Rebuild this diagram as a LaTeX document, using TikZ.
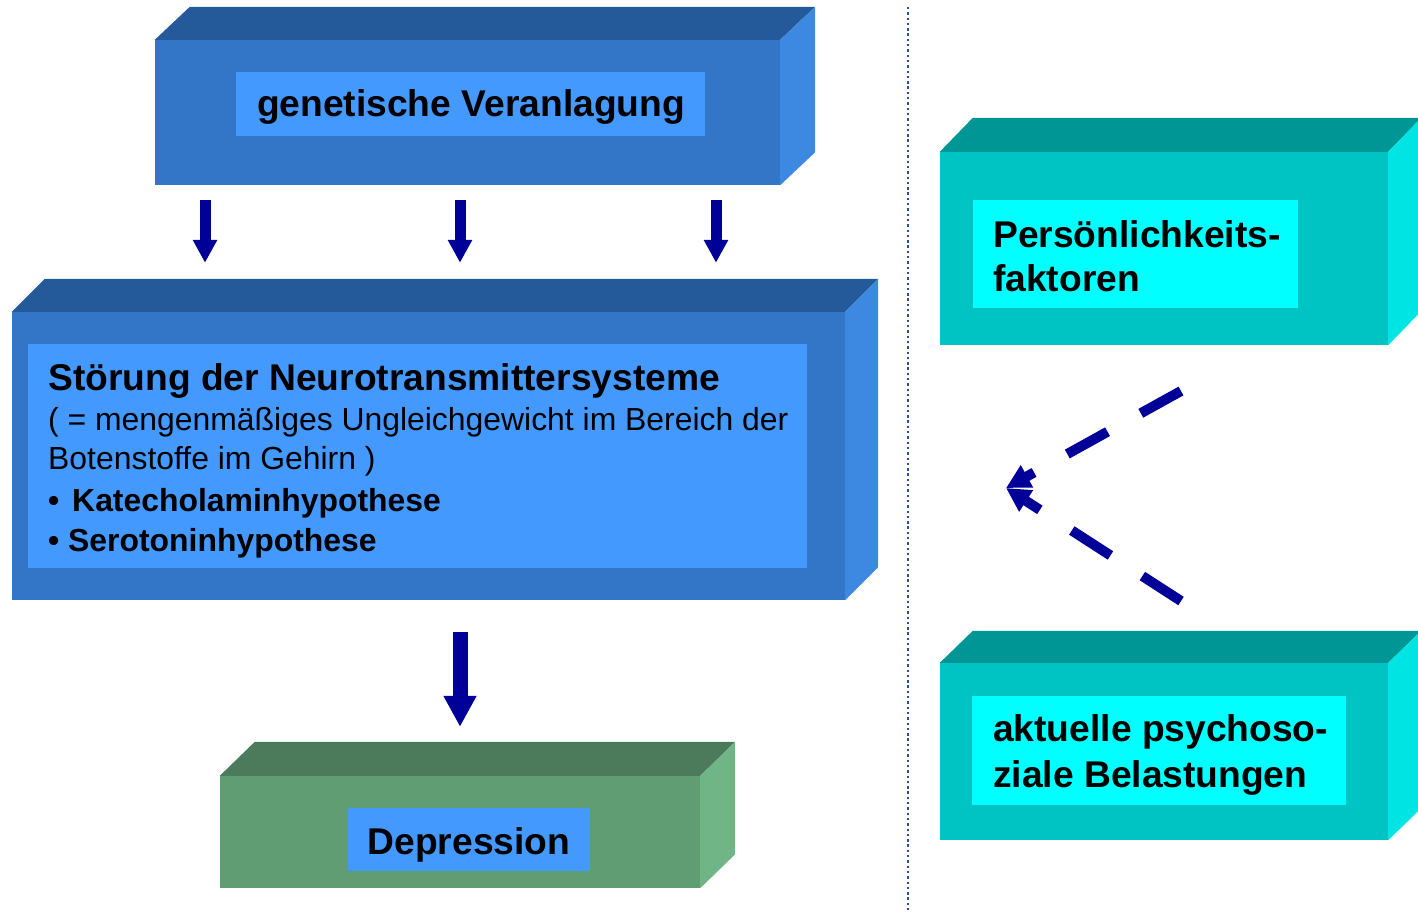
\documentclass[tikz,border=0pt]{standalone}
\usepackage{fontspec}
\setmainfont{Liberation Sans}
\usetikzlibrary{calc,arrows.meta}

\definecolor{blueF}{RGB}{51,117,199}
\definecolor{blueT}{RGB}{36,90,153}
\definecolor{blueS}{RGB}{61,136,225}
\definecolor{blueIn}{RGB}{68,153,255}
\definecolor{tealF}{RGB}{0,196,196}
\definecolor{tealT}{RGB}{0,150,150}
\definecolor{tealS}{RGB}{0,228,228}
\definecolor{tealIn}{RGB}{0,255,255}
\definecolor{greenF}{RGB}{97,157,115}
\definecolor{greenT}{RGB}{76,123,91}
\definecolor{greenS}{RGB}{112,181,133}
\definecolor{arrowblue}{RGB}{0,0,153}
\definecolor{divider}{RGB}{40,80,150}

\newcommand\headfont{\fontsize{37.2}{44}\selectfont\bfseries}
\newcommand\bodyfont{\fontsize{31.9}{38}\selectfont}

\tikzset{
  frontface/.style={rectangle, draw=none, inner sep=0pt},
  labelbox/.style={rectangle, draw=none, inner sep=0pt},
  txt/.style={inner sep=0pt, anchor=base west, text=black},
  smallarrow/.style={draw=arrowblue, line width=11pt, -{Triangle[width=23pt,length=23pt]}},
  bigarrow/.style={draw=arrowblue, line width=15pt, -{Triangle[width=31pt,length=31pt]}},
  dasharrow/.style={draw=arrowblue, line width=10pt, dash pattern=on 46pt off 38pt,
    -{Triangle[width=24pt,length=24pt]}},
}

% a box with a front face, a top face and a right face
% #1 name, #2 centre, #3 width, #4 height, #5 #6 depth, #7 colour prefix
\newcommand\drawblock[7]{%
  \node[frontface, fill=#7F, minimum width=#3pt, minimum height=#4pt] (#1) at (#2) {};
  \fill[#7T] (#1.north west) -- ++(#5,-#6) -- ($(#1.north east)+(#5,-#6)$)
    -- (#1.north east) -- cycle;
  \fill[#7S] (#1.north east) -- ++(#5,-#6) -- ($(#1.south east)+(#5,-#6)$)
    -- (#1.south east) -- cycle;
}

\begin{document}
\begin{tikzpicture}[x=1pt, y=-1pt]
\clip (0,0) rectangle (1418,912);
\fill[white] (0,0) rectangle (1418,912);

% dotted divider
\coordinate (divtop) at (908,7);
\coordinate (divbot) at (908,912);
\draw[divider, line width=2.4pt, dash pattern=on 2.4pt off 2.9pt] (divtop) -- (divbot);

% genetic disposition
\drawblock{gen}{467.5,112.5}{625}{145}{35}{33}{blue}
\node[labelbox, fill=blueIn, minimum width=469pt, minimum height=64pt] (genlbl) at (470.5,104) {};
\node[txt, anchor=base] (gentxt) at (471,117) {\headfont genetische Veranlagung};

% neurotransmitter disturbance
\drawblock{neuro}{428.5,456}{833}{288}{33}{33}{blue}
\node[labelbox, fill=blueIn, minimum width=779pt, minimum height=224pt] (neurolbl) at (417.5,456) {};
\node[txt] (n1) at (48,390) {\headfont Störung der Neurotransmittersysteme};
\node[txt] (n2) at (48,430) {\bodyfont ( = mengenmäßiges Ungleichgewicht im Bereich der};
\node[txt] (n3) at (48,469) {\bodyfont Botenstoffe im Gehirn )};
\node[txt] (n4) at (48,511) {\bodyfont\bfseries \textbullet\hspace{4pt} Katecholaminhypothese};
\node[txt] (n5) at (48,551) {\bodyfont\bfseries \textbullet\ Serotoninhypothese};

% depression
\drawblock{depr}{460,832}{480}{112}{35}{34}{green}
\node[labelbox, fill=blueIn, minimum width=242pt, minimum height=63pt] (deprlbl) at (469,839.5) {};
\node[txt, anchor=base] (deprtxt) at (469,854) {\headfont Depression};

% personality factors
\drawblock{pers}{1164,248.5}{448}{193}{33}{34}{teal}
\node[labelbox, fill=tealIn, minimum width=325pt, minimum height=108pt] (perslbl) at (1135.5,254) {};
\node[txt] (p1) at (993,247) {\headfont Persönlichkeits-};
\node[txt] (p2) at (993,291) {\headfont faktoren};

% psychosocial stress
\drawblock{stress}{1164,751.5}{448}{177}{33}{32}{teal}
\node[labelbox, fill=tealIn, minimum width=374pt, minimum height=109pt] (stresslbl) at (1159,750.5) {};
\node[txt] (s1) at (993,741) {\headfont aktuelle psychoso-};
\node[txt] (s2) at (993,787) {\headfont ziale Belastungen};

% arrows between the blocks
\draw[smallarrow, shorten <=15pt, shorten >=49pt] (gen.south -| 205,0) -- (neuro.north -| 205,0);
\draw[smallarrow, shorten <=15pt, shorten >=49pt] (gen.south -| 460,0) -- (neuro.north -| 460,0);
\draw[smallarrow, shorten <=15pt, shorten >=49pt] (gen.south -| 716,0) -- (neuro.north -| 716,0);
\draw[bigarrow, shorten <=32pt, shorten >=49pt] (neuro.south -| 460,0) -- (depr.north -| 460,0);

% dashed arrows from the right-hand factors
\coordinate (persend) at (1181,391);
\coordinate (stressend) at (1181,601);
\coordinate (meet) at (1006,488);
\draw[dasharrow] (persend) -- (meet);
\draw[dasharrow] (stressend) -- (meet);
\end{tikzpicture}
\end{document}
